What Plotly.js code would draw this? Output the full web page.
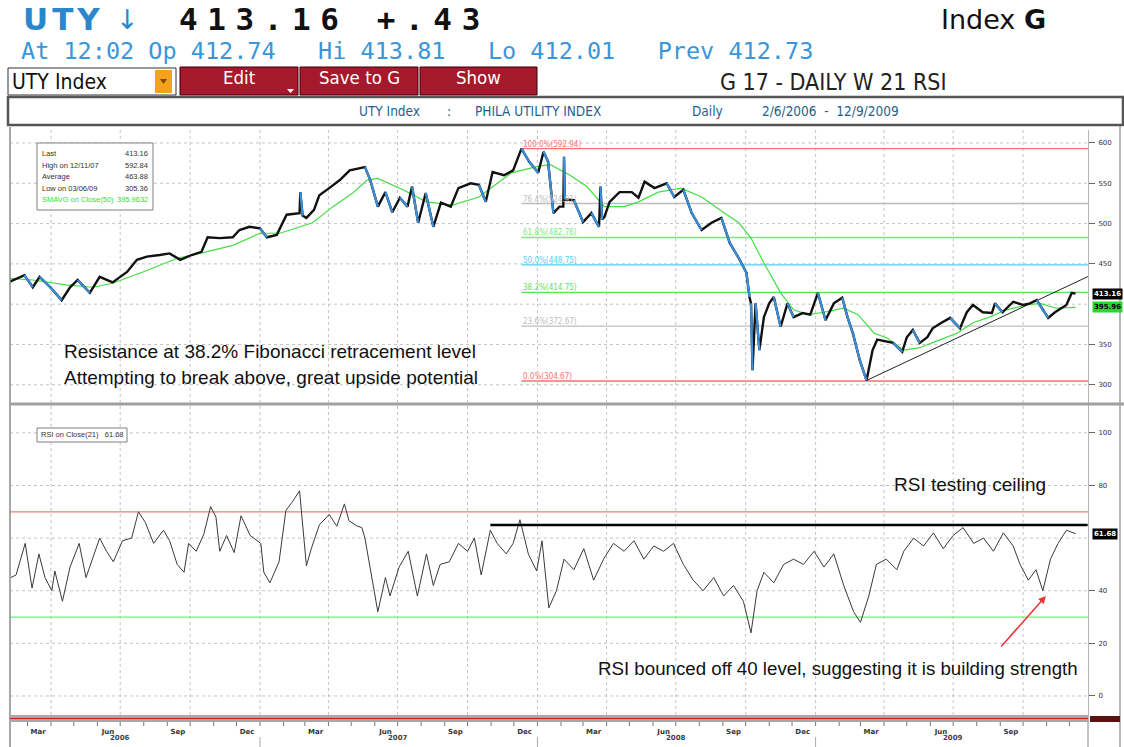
<!DOCTYPE html>
<html><head><meta charset="utf-8">
<script src="https://cdn.plot.ly/plotly-3.0.1.min.js"></script>
<style>html,body{margin:0;padding:0;background:#fff;}#chart{width:1124px;height:747px;}</style>
</head><body><div id="chart"></div>
<script>
// ---------------- DATA ----------------
const priceDates = ['2006-02-06','2006-02-25','2006-03-08','2006-03-17','2006-03-31','2006-04-15','2006-04-26','2006-05-06','2006-05-22','2006-06-04','2006-06-21','2006-07-10','2006-07-23','2006-08-05','2006-08-22','2006-09-04','2006-09-18','2006-10-03','2006-10-16','2006-10-24','2006-11-09','2006-11-26','2006-12-05','2006-12-18',
'2007-01-01','2007-01-10','2007-01-23','2007-02-05','2007-02-22','2007-02-23','2007-02-26','2007-03-03','2007-03-13','2007-03-20','2007-04-02','2007-04-16','2007-04-29','2007-05-19','2007-05-26','2007-06-05','2007-06-15','2007-06-24','2007-07-04','2007-07-14','2007-07-20','2007-07-28','2007-08-07','2007-08-17','2007-08-27','2007-09-09','2007-09-19','2007-10-05','2007-10-16','2007-10-25','2007-11-03','2007-11-18','2007-11-30','2007-12-11','2007-12-21',
'2008-01-02','2008-01-09','2008-01-15','2008-01-22','2008-01-30','2008-02-04','2008-02-05','2008-02-06','2008-02-18','2008-03-01','2008-03-12','2008-03-22','2008-03-24','2008-03-26','2008-03-29','2008-04-05','2008-04-18','2008-05-04','2008-05-13','2008-05-21','2008-06-03','2008-06-19','2008-06-29','2008-07-11','2008-07-22','2008-08-04','2008-08-17','2008-08-30','2008-09-10','2008-09-22','2008-10-02','2008-10-06','2008-10-08','2008-10-10','2008-10-14','2008-10-19','2008-10-25','2008-11-01','2008-11-07','2008-11-16','2008-11-25','2008-12-03','2008-12-15','2008-12-25',
'2009-01-04','2009-01-14','2009-01-25','2009-02-05','2009-02-12','2009-02-19','2009-02-28','2009-03-09','2009-03-17','2009-03-23','2009-04-05','2009-04-13','2009-04-25','2009-05-01','2009-05-09','2009-05-18','2009-05-28','2009-06-04','2009-06-14','2009-06-27','2009-07-10','2009-07-19','2009-07-27','2009-08-09','2009-08-21','2009-08-25','2009-09-04','2009-09-18','2009-10-01','2009-10-10','2009-10-19','2009-10-27','2009-11-03','2009-11-12','2009-11-21','2009-11-27','2009-12-04','2009-12-09'];
const priceValues = [428,436,421,434,421,405,421,430,414,434,427,440,455,459,461,463,455,461,465,483,482,483,492,496,
494,483,486,511,513,539,510,507,517,535,544,554,566,570,554,521,539,514,532,521,546,501,538,496,526,521,544,550,548,527,564,560,566,592.94,577,
563,589,577,513,521,521,583,530,529,502,513,496,546,505,508,527,539,539,532,552,544,550,533,542,513,492,501,507,476,457,439,409,401,318,401,343,384,401,409,372,401,384,389,387,
414,380,401,408,384,364,331,305.36,343,356,353,352,341,359,368,352,359,370,376,383,370,390,399,390,389,401,390,403,399,401,405,393,383,390,396,399,414,413.16];

const smaDates = ['2006-02-06','2006-03-08','2006-04-21','2006-05-26','2006-06-21','2006-07-31','2006-09-14','2006-10-14','2006-11-26',
'2007-01-01','2007-01-27','2007-03-11','2007-04-07','2007-05-03','2007-05-22','2007-06-05','2007-07-08','2007-08-08','2007-09-11','2007-10-16','2007-11-15','2007-11-28',
'2008-01-01','2008-01-18','2008-02-13','2008-03-06','2008-03-29','2008-04-24','2008-05-13','2008-06-08','2008-07-08','2008-08-04','2008-09-03','2008-09-22','2008-10-08','2008-10-25','2008-11-16','2008-12-03','2008-12-22',
'2009-01-12','2009-02-07','2009-02-26','2009-03-19','2009-04-05','2009-04-27','2009-05-18','2009-06-14','2009-07-06','2009-07-27','2009-08-18','2009-09-09','2009-10-06','2009-10-23','2009-11-14','2009-12-09'];
const smaValues = [432,430,424,421,426,440,457,463,473,
488,488,501,521,538,554,556,542,527,523,533,554,563,
571,573,560,546,521,521,527,539,544,533,513,501,482,451,414,393,387,
390,395,387,364,358,343,346,356,364,377,384,393,399,401,395,395.96];

const rsiDates = ['2006-02-07','2006-02-14','2006-02-26','2006-03-07','2006-03-16','2006-03-24','2006-04-02','2006-04-06','2006-04-16','2006-04-26','2006-05-08','2006-05-17','2006-06-04','2006-06-13','2006-06-22','2006-07-04','2006-07-16','2006-07-25','2006-08-03','2006-08-14','2006-08-27','2006-09-04','2006-09-14','2006-09-23','2006-09-29','2006-10-09','2006-10-19','2006-10-28','2006-11-04','2006-11-09','2006-11-18','2006-11-28','2006-12-07','2006-12-19',
'2007-01-02','2007-01-06','2007-01-14','2007-01-26','2007-02-04','2007-02-13','2007-02-22','2007-02-25','2007-03-03','2007-03-10','2007-03-20','2007-04-02','2007-04-12','2007-04-22','2007-04-28','2007-05-08','2007-05-15','2007-05-19','2007-05-26','2007-06-05','2007-06-15','2007-06-21','2007-07-03','2007-07-15','2007-07-27','2007-08-08','2007-08-17','2007-08-26','2007-09-07','2007-09-19','2007-10-01','2007-10-10','2007-10-19','2007-10-31','2007-11-09','2007-11-21','2007-11-30','2007-12-09','2007-12-20','2007-12-31',
'2008-01-07','2008-01-16','2008-01-26','2008-02-05','2008-02-18','2008-03-02','2008-03-15','2008-03-28','2008-04-10','2008-04-24','2008-05-07','2008-05-20','2008-06-02','2008-06-15','2008-06-28','2008-07-11','2008-07-24','2008-08-06','2008-08-20','2008-09-02','2008-09-15','2008-09-28','2008-10-08','2008-10-16','2008-10-25','2008-11-07','2008-11-20','2008-12-03','2008-12-16','2008-12-30',
'2009-01-12','2009-01-25','2009-02-07','2009-02-20','2009-03-01','2009-03-12','2009-03-22','2009-04-04','2009-04-18','2009-04-27','2009-05-10','2009-05-23','2009-06-05','2009-06-18','2009-07-01','2009-07-14','2009-07-28','2009-08-10','2009-08-23','2009-09-05','2009-09-18','2009-09-27','2009-10-08','2009-10-18','2009-10-27','2009-11-06','2009-11-16','2009-11-27','2009-12-09'];
const rsiValues = [45,46,58,41,54,45,40,47.5,36,49,58,45,60,55,51,59,60,70,66,58,63,59,50,47,58,55,61.5,72,68,55,61,54.5,68.5,61,
58,47,43,51,70.5,74,78,68,49.5,56.5,65,69,64.5,73,66.6,64.7,64,60,49,32,45,38,49,55,38,54,42,50,51,58,55,60,46,63,58,54,58,67,54,47.5,
59,33.5,40,52,48,56,44,52,58,55,59,52,57,55,58,50,44,40,45,38,42,36,24,40,47,43,50,52,50,55,
49,54,42,32,28,38,50,52,48,55,60,57,62,56,61,64,58,60,55,62,57,50,44,48,40,52,58,63,61.68];

const fibStart = '2007-12-11';
const fibPct = ['100.0','76.4','61.8','50.0','38.2','23.6','0.0'];
const fibVal = [592.94,524.91,482.76,448.75,414.75,372.67,304.67];
const fibColor = ['#ff6f6f','#bdbdbd','#7fe67f','#4fd3f2','#5fe05f','#bdbdbd','#ff6f6f'];

const trendDates = ['2009-03-09','2009-12-27'];
const trendValues = [305.36,435];
const ceilingDates = ['2007-10-31','2009-12-25'];
const ceilingValue = 65;
const rsiUpper = 70, rsiLower = 30;
const lastPrice = 413.16, lastSma = 395.96, lastRsi = 61.68;

const legendLabels = ['Last','High on 12/11/07','Average','Low on 03/06/09','SMAVG on Close(50)'];
const legendValues = ['413.16','592.84','463.88','305.36','395.9632'];
const monthNames = ['Mar','Jun','Sep','Dec'];
const years = [2006,2007,2008,2009];
const priceTicks = [300,350,450,500,550,600];   // 400 is hidden behind the value tags
const rsiTicks = [0,20,40,80,100];               // 60 is hidden behind the RSI tag

// ---------------- GEOMETRY ----------------
const L=10, R=1088, T=130, B=722;
const xStart='2006-02-06', xEnd='2009-12-25 10:00';
function px(x){return (x-L)/(R-L);}
function py(y){return (B-y)/(B-T);}

const A=[], S=[];
function txt(text,x,y,size,color,family,anchor,extra){
  A.push(Object.assign({xref:'paper',yref:'paper',x:px(x),y:py(y),text:text,showarrow:false,
    xanchor:anchor||'left',yanchor:'middle',font:{size:size,color:color,family:family}},extra||{}));
}
function rect(x0,y0,x1,y1,fill,lc,lw,layer){
  S.push({type:'rect',xref:'paper',yref:'paper',x0:px(x0),x1:px(x1),y0:py(y0),y1:py(y1),
    fillcolor:fill||'rgba(0,0,0,0)',line:{color:lc||'rgba(0,0,0,0)',width:lw==null?1:lw},layer:layer||'above'});
}
function seg(x0,y0,x1,y1,color,w,layer){
  S.push({type:'line',xref:'paper',yref:'paper',x0:px(x0),x1:px(x1),y0:py(y0),y1:py(y1),
    line:{color:color,width:w},layer:layer||'above'});
}
function tri(pts,fill){
  S.push({type:'path',xref:'paper',yref:'paper',path:'M '+pts.map(p=>px(p[0])+' '+py(p[1])).join(' L ')+' Z',
    fillcolor:fill,line:{width:0},layer:'above'});
}

// ---------------- HEADER ----------------
const blue='#2b87cc';
txt('<b><span style="letter-spacing:4px">UTY</span></b>',21,19,31,blue,'DejaVu Sans');
txt('↓',114,19,27,blue,'DejaVu Sans');
txt('<b><span style="letter-spacing:9.6px">413.16 +.43</span></b>',177,19,31,'#111','DejaVu Sans Mono');
txt('Index <b>G</b>',939,19,27,'#111','DejaVu Sans');
txt('At 12:02 Op 412.74\u00a0\u00a0\u00a0Hi 413.81\u00a0\u00a0\u00a0Lo 412.01\u00a0\u00a0\u00a0Prev 412.73',19,51,23.5,'#3a96d8','DejaVu Sans Mono');

rect(8,68,176,95,'#fff','#333',1);
txt('UTY Index',10,82,21,'#111','DejaVu Sans Condensed');
rect(155,70,172,93,'#f4a11d',null,0);
tri([[160,79],[167,79],[163.5,84]],'#7a4a00');
const btn=[['Edit',180,298],['Save to G',300,418],['Show',420,537]];
btn.forEach(b=>{rect(b[1],67,b[2],95,'#a6192c','#3a0008',1);txt(b[0],(b[1]+b[2])/2,78,18.5,'#fff','DejaVu Sans Condensed','center');});
tri([[287,89],[294,89],[290.5,93]],'#fff');
txt('G 17 - DAILY W 21 RSI',718,82,23,'#222','DejaVu Sans Condensed');

rect(8,97,1123,125,'rgba(0,0,0,0)','#555',2.5);
const hb='#1f5f8f';
txt('UTY Index',357,111,13.5,hb,'DejaVu Sans Condensed');
txt(':',445,111,13.5,hb,'DejaVu Sans Condensed');
txt('PHILA UTILITY INDEX',473,111,13.5,hb,'DejaVu Sans Condensed');
txt('Daily',690,111,13.5,hb,'DejaVu Sans Condensed');
txt('2/6/2006\u00a0\u00a0-\u00a0\u00a012/9/2009',760,111,13.5,hb,'DejaVu Sans Condensed');

// ---------------- FRAME ----------------
seg(10,127,10,747,'#8a8a8a',1.5);
seg(1120,126,1120,747,'#a0a0a0',1.5);
seg(10,404,1124,404,'#a0a0a0',3);
rect(10,715,1088,722,'#a8a8a8',null,0);
seg(10,718.5,1088,718.5,'#c81e1e',1);
rect(1090,716,1120,722,'#5a1212',null,0);
seg(1088,722,1088,747,'#888',1);

for(const y of years){
  for(let m=1;m<=12;m++){
    const d=y+'-'+String(m).padStart(2,'0')+'-01';
    if(d<'2006-03-01'||d>'2009-12-01') continue;
    if((m-1)%3===0){
      S.push({type:'line',xref:'x',yref:'paper',x0:d,x1:d,y0:py(715),y1:1,line:{color:'#c4c4c4',width:1,dash:'dot'},layer:'below'});
    }
    S.push({type:'line',xref:'x',yref:'paper',x0:d,x1:d,y0:py(722),y1:py(726),line:{color:'#777',width:1},layer:'above'});
  }
  if(y>2006){const d=y+'-01-01';S.push({type:'line',xref:'x',yref:'paper',x0:d,x1:d,y0:py(737),y1:py(747),line:{color:'#aaa',width:1},layer:'above'});}
  A.push({xref:'x',yref:'paper',x:y+'-07-01',y:py(744),text:String(y),showarrow:false,font:{size:7,color:'#444',family:'DejaVu Sans',weight:'bold'}});
}
const tickVals=[],tickText=[];
for(const y of years){monthNames.forEach((n,i)=>{const m=3+3*i;const d=y+'-'+String(m).padStart(2,'0')+'-15';if(d<'2009-12-01'){tickVals.push(d);tickText.push(n);}});}

// ---------------- FIBONACCI ----------------
fibVal.forEach((v,i)=>{
  S.push({type:'line',xref:'x',yref:'y',x0:fibStart,x1:xEnd,y0:v,y1:v,line:{color:fibColor[i],width:1.3},layer:'below'});
  A.push({xref:'x',yref:'y',x:fibStart,y:v,xanchor:'left',yanchor:'bottom',yshift:-2,showarrow:false,
    text:fibPct[i]+'%('+v.toFixed(2)+')',font:{size:8,color:fibColor[i],family:'DejaVu Sans Condensed'}});
});
S.push({type:'line',xref:'paper',yref:'y2',x0:0,x1:1,y0:rsiUpper,y1:rsiUpper,line:{color:'#ff7777',width:1.3},layer:'below'});
S.push({type:'line',xref:'paper',yref:'y2',x0:0,x1:1,y0:rsiLower,y1:rsiLower,line:{color:'#77ee77',width:1.3},layer:'below'});

// ---------------- INFO BOXES ----------------
rect(37,143,153,210,'#fff','#808080',1);
const rowsY=[153.5,165,176.5,188,199.5];
legendLabels.forEach((l,i)=>{
  const c=i===4?'#33dd33':'#333';
  txt(l,40,rowsY[i],7.5,c,'Liberation Sans');
  txt(legendValues[i],150,rowsY[i],7.5,c,'Liberation Sans','right');
});
rect(37,428,127,442,'#fff','#808080',1);
txt('RSI on Close(21)\u00a0\u00a0\u00a0'+lastRsi.toFixed(2),39,435,7.5,'#333','Liberation Sans');

A.push({xref:'paper',yref:'y',x:px(1092),y:lastPrice,xanchor:'left',yanchor:'middle',showarrow:false,text:'<b>'+lastPrice.toFixed(2)+'</b>',bgcolor:'#000',borderpad:1,font:{size:7,color:'#fff',family:'DejaVu Sans'}});
A.push({xref:'paper',yref:'y',x:px(1092),y:lastSma,xanchor:'left',yanchor:'middle',showarrow:false,text:'<b>'+lastSma.toFixed(2)+'</b>',bgcolor:'#22dd22',borderpad:1,font:{size:7,color:'#000',family:'DejaVu Sans'}});
A.push({xref:'paper',yref:'y2',x:px(1092),y:lastRsi,xanchor:'left',yanchor:'middle',showarrow:false,text:'<b>'+lastRsi.toFixed(2)+'</b>',bgcolor:'#000',borderpad:1,font:{size:7,color:'#fff',family:'DejaVu Sans'}});

// ---------------- COMMENTARY ----------------
const cf='Liberation Sans';
txt('Resistance at 38.2% Fibonacci retracement level',62,351,19,'#111',cf);
txt('Attempting to break above, great upside potential',62,377,19,'#111',cf);
txt('RSI testing ceiling',892,484,19,'#111',cf);
txt('RSI bounced off 40 level, suggesting it is building strength',596,668,18.7,'#111',cf);
A.push({xref:'x',yref:'y2',x:'2009-10-31',y:38,ax:-46,ay:52,text:'',showarrow:true,arrowcolor:'#ee3333',arrowwidth:1.5,arrowhead:2,arrowsize:1});

// ---------------- TRACES ----------------
const downX=[],downY=[];
for(let i=1;i<priceValues.length;i++){
  if(priceValues[i-1]-priceValues[i]>=10){downX.push(priceDates[i-1],priceDates[i],null);downY.push(priceValues[i-1],priceValues[i],null);}
}
const traces=[
  {x:smaDates,y:smaValues,yaxis:'y',mode:'lines',line:{color:'#44dd44',width:1.2},hoverinfo:'skip'},
  {x:trendDates,y:trendValues,yaxis:'y',mode:'lines',line:{color:'#222',width:1},hoverinfo:'skip'},
  {x:priceDates,y:priceValues,yaxis:'y',mode:'lines',line:{color:'#111',width:2.4},hoverinfo:'skip'},
  {x:downX,y:downY,yaxis:'y',mode:'lines',line:{color:'#3a8fd8',width:2.2},hoverinfo:'skip',connectgaps:false},
  {x:rsiDates,y:rsiValues,yaxis:'y2',mode:'lines',line:{color:'#3a3a3a',width:1},hoverinfo:'skip'},
  {x:ceilingDates,y:[ceilingValue,ceilingValue],yaxis:'y2',mode:'lines',line:{color:'#000',width:2.5},hoverinfo:'skip'}
];

const yStyle={side:'right',showgrid:false,zeroline:false,
  showline:true,linecolor:'#b5b5b5',linewidth:1,ticks:'outside',ticklen:6,tickcolor:'#666',ticklabelstandoff:2,
  tickfont:{size:7,color:'#333',family:'DejaVu Sans'},fixedrange:true};
const layout={
  width:1124,height:747,margin:{l:L,r:1124-R,t:T,b:747-B},paper_bgcolor:'#fff',plot_bgcolor:'#fff',showlegend:false,
  xaxis:{type:'date',range:[xStart,xEnd],anchor:'y2',showgrid:false,zeroline:false,showline:false,ticks:'',
    tickmode:'array',tickvals:tickVals,ticktext:tickText,ticklabelstandoff:4,
    tickfont:{size:7,color:'#333',family:'DejaVu Sans',weight:'bold'},fixedrange:true},
  yaxis:Object.assign({},yStyle,{domain:[py(403),1],range:[277.4,616.1],tickmode:'array',tickvals:priceTicks}),
  yaxis2:Object.assign({},yStyle,{domain:[0,py(405)],range:[-9.9,110.6],tickmode:'array',tickvals:rsiTicks}),
  shapes:S,annotations:A
};
[300,350,400,450,500,550,600].forEach(v=>S.push({type:'line',xref:'paper',yref:'y',x0:0,x1:1,y0:v,y1:v,line:{color:'#c4c4c4',width:1,dash:'dot'},layer:'below'}));
[0,20,40,60,80,100].forEach(v=>S.push({type:'line',xref:'paper',yref:'y2',x0:0,x1:1,y0:v,y1:v,line:{color:'#c4c4c4',width:1,dash:'dot'},layer:'below'}));
Plotly.newPlot('chart',traces,layout,{displayModeBar:false,staticPlot:true});
</script></body></html>
